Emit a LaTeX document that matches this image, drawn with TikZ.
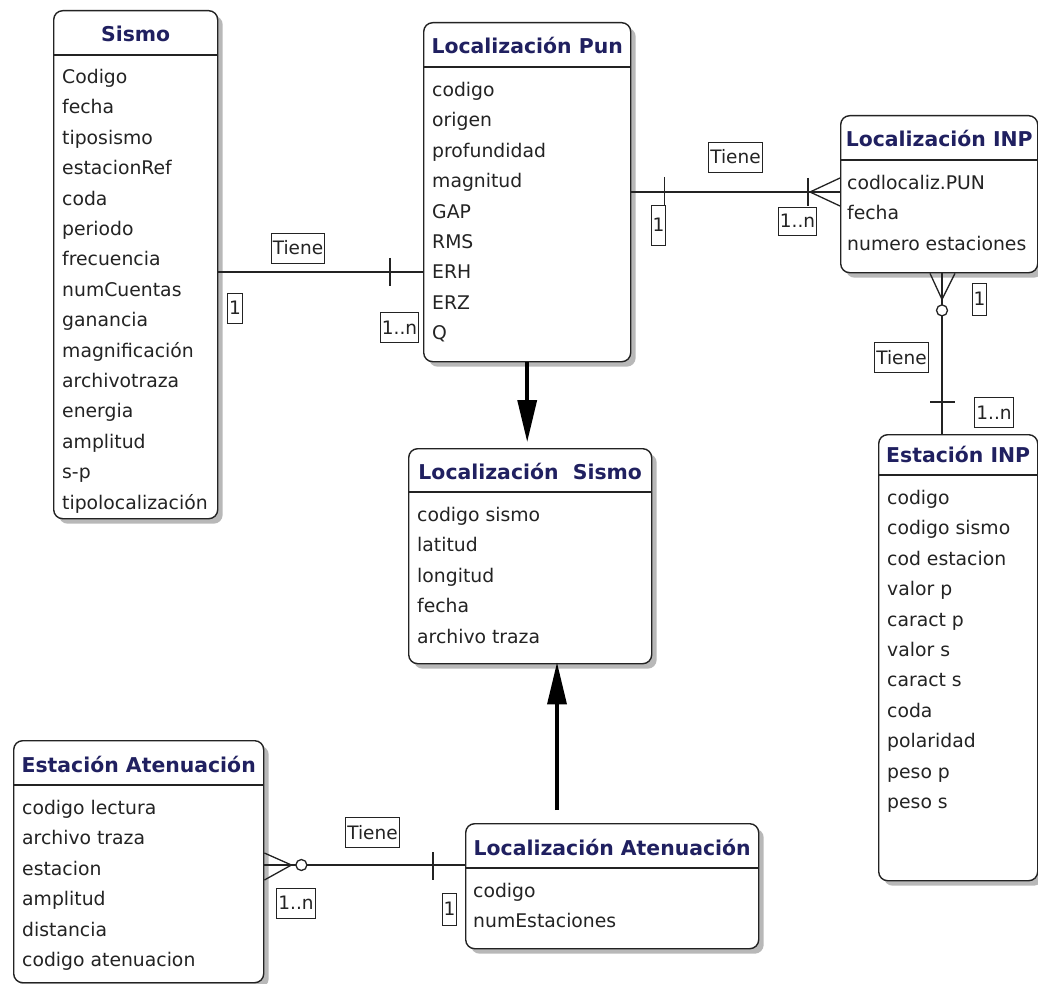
\documentclass[tikz,border=0pt]{standalone}
\usepackage{fontspec}
\setmainfont{DejaVu Sans}
\usetikzlibrary{shadows,arrows.meta,calc}
\definecolor{ttl}{RGB}{32,32,96}
\definecolor{ink}{RGB}{35,35,35}
\tikzset{
  ent/.style={draw=ink, line width=1.4pt, fill=white, rounded corners=9pt,
    inner sep=0pt, anchor=north west,
    drop shadow={shadow xshift=5pt, shadow yshift=-5pt, fill=black, opacity=0.28}},
  ttlnode/.style={font=\fontsize{20.4}{24}\selectfont\bfseries, text=ttl, inner sep=0pt, anchor=base},
  attrs/.style={font=\fontsize{18.8}{30.4}\selectfont, text=ink, align=left, inner sep=0pt, anchor=north west},
  sepline/.style={draw=ink, line width=1.4pt},
  rel/.style={draw=ink, line width=1.3pt},
  lbl/.style={draw=ink, line width=0.9pt, font=\fontsize{18.5}{22}\selectfont, text=ink,
    inner xsep=1.5pt, inner ysep=0pt, minimum height=30pt},
  isa/.style={draw=black, line width=3.5pt, -{Triangle[length=42pt,width=19pt]}},
}
\begin{document}
\begin{tikzpicture}[x=1pt, y=-1pt]
\fill[white] (0,0) rectangle (1038,984);
\useasboundingbox (0,0) rectangle (1038,984);

% ---------- entities ----------
% Sismo
\node[ent, minimum width=164pt, minimum height=508pt] (sismo) at (53,10) {};
\draw[sepline] (sismo.west |- 0,55) -- (sismo.east |- 0,55);
\node[ttlnode] (sismoT) at (sismo.north |- 0,42) {Sismo};
\node[attrs] (sismoA) at (62,69) {Codigo\\fecha\\tiposismo\\estacionRef\\coda\\periodo\\frecuencia\\numCuentas\\ganancia\\magnificación\\archivotraza\\energia\\amplitud\\s-p\\tipolocalización};

% Localización Pun
\node[ent, minimum width=207pt, minimum height=339pt] (locpun) at (423,22) {};
\draw[sepline] (locpun.west |- 0,67) -- (locpun.east |- 0,67);
\node[ttlnode] (locpunT) at (locpun.north |- 0,54) {Localización Pun};
\node[attrs] (locpunA) at (432,82) {codigo\\origen\\profundidad\\magnitud\\GAP\\RMS\\ERH\\ERZ\\Q};

% Localización INP
\node[ent, minimum width=197pt, minimum height=157pt] (locinp) at (840,115) {};
\draw[sepline] (locinp.west |- 0,160) -- (locinp.east |- 0,160);
\node[ttlnode] (locinpT) at (locinp.north |- 0,147) {Localización INP};
\node[attrs] (locinpA) at (847,175) {codlocaliz.PUN\\fecha\\numero estaciones};

% Estación INP
\node[ent, minimum width=159pt, minimum height=446pt] (estinp) at (878,434) {};
\draw[sepline] (estinp.west |- 0,475) -- (estinp.east |- 0,475);
\node[ttlnode] (estinpT) at (estinp.north |- 0,462) {Estación INP};
\node[attrs] (estinpA) at (887,490) {codigo\\codigo sismo\\cod estacion\\valor p\\caract p\\valor s\\caract s\\coda\\polaridad\\peso p\\peso s};

% Localización Sismo
\node[ent, minimum width=243pt, minimum height=215pt] (locsis) at (408,448) {};
\draw[sepline] (locsis.west |- 0,492) -- (locsis.east |- 0,492);
\node[ttlnode] (locsisT) at (locsis.north |- 0,479) {Localización\ \ Sismo};
\node[attrs] (locsisA) at (417,507) {codigo sismo\\latitud\\longitud\\fecha\\archivo traza};

% Estación Atenuación
\node[ent, minimum width=250pt, minimum height=242pt] (estaten) at (13,740) {};
\draw[sepline] (estaten.west |- 0,785) -- (estaten.east |- 0,785);
\node[ttlnode] (estatenT) at (estaten.north |- 0,772) {Estación Atenuación};
\node[attrs] (estatenA) at (22,800) {codigo lectura\\archivo traza\\estacion\\amplitud\\distancia\\codigo atenuacion};

% Localización Atenuación
\node[ent, minimum width=293pt, minimum height=125pt] (locaten) at (465,823) {};
\draw[sepline] (locaten.west |- 0,868) -- (locaten.east |- 0,868);
\node[ttlnode] (locatenT) at (locaten.north |- 0,855) {Localización Atenuación};
\node[attrs] (locatenA) at (473,883) {codigo\\numEstaciones};

% ---------- relationships ----------
% Sismo -- Localización Pun
\coordinate (a1) at (sismo.east |- 0,272);
\coordinate (a2) at (locpun.west |- 0,272);
\draw[rel] (a1) -- (a2);
\draw[rel] ($(a2)+(-33,-14)$) -- ++(0,28);
\node[lbl] (a1T) at (298,248) {Tiene};
\node[lbl] (a1L) at (235,308) {1};
\node[lbl] (a2L) at (399.5,327.5) {1..n};

% Localización Pun -- Localización INP
\coordinate (b1) at (locpun.east |- 0,192);
\coordinate (b2) at (locinp.west |- 0,192);
\coordinate (b3) at ($(b2)+(-30,0)$);
\draw[rel] (b1) -- (b2);
\draw[rel] ($(b1)+(33,-15)$) -- ++(0,29);
\draw[rel] ($(b2)+(0,-14)$) -- (b3) -- ($(b2)+(0,14)$);
\draw[rel] ($(b3)+(-2,-14)$) -- ++(0,28);
\node[lbl] (b1T) at (735.5,157) {Tiene};
\node[lbl, minimum height=40pt] (b1L) at (658.5,225) {1};
\node[lbl, minimum height=28pt] (b2L) at (797.5,221) {1..n};

% Localización INP -- Estación INP
\coordinate (c1) at (locinp.south -| 942,0);
\coordinate (c2) at (estinp.north -| 942,0);
\draw[rel] (c1) -- (c2);
\draw[rel] ($(c1)+(-12,0)$) -- ($(c1)+(0,26)$) -- ($(c1)+(13,0)$);
\draw[rel, fill=white] ($(c1)+(0,37)$) circle[radius=5.5pt];
\draw[rel] ($(c2)+(-12,-32)$) -- ++(25,0);
\node[lbl, minimum height=32pt] (c1L) at (979.5,299) {1};
\node[lbl] (c1T) at (901.5,357.5) {Tiene};
\node[lbl] (c2L) at (994,412.5) {1..n};

% Estación Atenuación -- Localización Atenuación
\coordinate (d1) at (estaten.east |- 0,865);
\coordinate (d2) at (locaten.west |- 0,865);
\draw[rel] (d1) -- (d2);
\draw[rel] ($(d1)+(0,-12)$) -- ($(d1)+(27,0)$) -- ($(d1)+(0,15)$);
\draw[rel, fill=white] ($(d1)+(37,0)$) circle[radius=5.5pt];
\draw[rel] ($(d2)+(-32,-13)$) -- ++(0,28);
\node[lbl] (d1T) at (372.5,832.5) {Tiene};
\node[lbl] (d1L) at (296,903) {1..n};
\node[lbl, minimum height=32pt] (d2L) at (449.5,909) {1};

% ---------- specialisation arrows ----------
\draw[isa, shorten >=6pt] (locpun.south) -- (locpun.south |- locsis.north);
\draw[isa, shorten <=13pt, shorten >=-2pt] (locaten.north -| 557,0) -- (locsis.south -| 557,0);
\end{tikzpicture}
\end{document}
